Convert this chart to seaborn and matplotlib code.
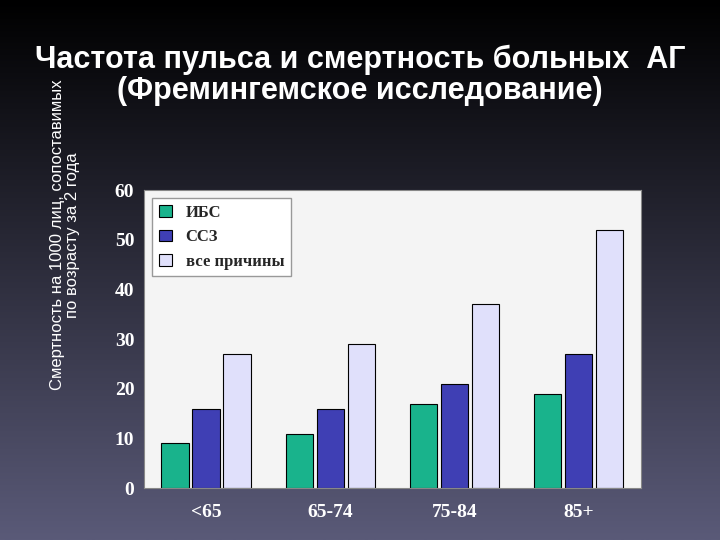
import numpy as np
import pandas as pd
import matplotlib
matplotlib.use("Agg")
import matplotlib.pyplot as plt
import seaborn as sns

groups = ["<65", "65-74", "75-84", "85+"]
series = ["ИБС", "ССЗ", "все причины"]
ibs = [9, 11, 17, 19]
ssz = [16, 16, 21, 27]
all_causes = [27, 29, 37, 52]
colors = ["#00cc99", "#2b2bc8", "#dcdcff"]

df = pd.DataFrame({
    "group": groups * 3,
    "series": [series[0]] * 4 + [series[1]] * 4 + [series[2]] * 4,
    "value": ibs + ssz + all_causes,
})

sns.set_style("white")
plt.rcParams["font.family"] = ["DejaVu Sans"]
fig = plt.figure(figsize=(7.2, 5.4), dpi=100)

# dark gradient background
bg = fig.add_axes([0, 0, 1, 1], zorder=-10)
grad = np.linspace(0, 1, 256).reshape(-1, 1)
cmap = matplotlib.colors.LinearSegmentedColormap.from_list("bg", ["#000000", "#5a5a78"])
bg.imshow(grad, aspect="auto", cmap=cmap, extent=[0, 1, 0, 1], origin="upper")
bg.axis("off")

ax = fig.add_axes([0.2, 0.096, 0.69, 0.552])
sns.barplot(data=df, x="group", y="value", hue="series", palette=colors,
            width=0.75, gap=0.12, edgecolor="black", linewidth=0.8, ax=ax)
ax.set_facecolor("#f4f4f4")
ax.set_ylim(0, 60)
ax.set_yticks(range(0, 61, 10))
ax.set_xlabel("")
ax.set_ylabel("")
for s in ax.spines.values():
    s.set_color("#888888")
ax.tick_params(colors="white", labelsize=14)
for lab in ax.get_xticklabels() + ax.get_yticklabels():
    lab.set_fontfamily("Liberation Serif")
    lab.set_fontweight("bold")
ax.tick_params(axis="x", pad=8)
leg = ax.legend(loc="upper left", frameon=True, handlelength=0.8, fancybox=False,
                edgecolor="#999999", framealpha=1,
                prop={"family": "Liberation Serif", "weight": "bold", "size": 12})

fig.text(0.5, 0.86, "Частота пульса и смертность больных  АГ\n(Фремингемское исследование)",
         ha="center", va="center", color="white", fontsize=22, fontweight="bold",
         family="Liberation Sans", linespacing=1.05)
fig.text(0.09, 0.565, "Смертность на 1000 лиц, сопоставимых\nпо возрасту за 2 года",
         rotation=90, ha="center", va="center", color="white", fontsize=12,
         family="Liberation Sans", linespacing=1.0)

fig.savefig("out.png", dpi=100)
